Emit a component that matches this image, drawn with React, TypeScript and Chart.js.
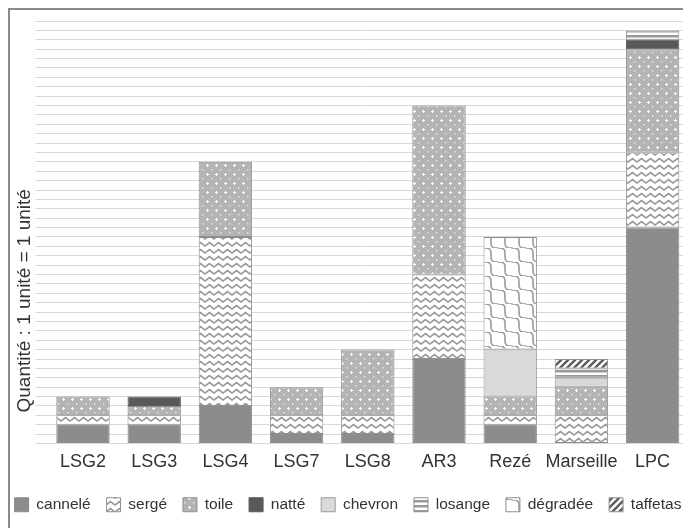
import React, { useEffect, useRef } from "react";
import { Chart, registerables } from "chart.js";

Chart.register(...registerables);

// ---------- data ----------
const categories = ["LSG2", "LSG3", "LSG4", "LSG7", "LSG8", "AR3", "Rezé", "Marseille", "LPC"];
const seriesNames = ["cannelé", "sergé", "toile", "natté", "chevron", "losange", "dégradée", "taffetas"];
const cannele = [2, 2, 4, 1, 1, 9, 2, 0, 23];
const serge = [1, 1, 18, 2, 2, 9, 1, 3, 8];
const toile = [2, 1, 8, 3, 7, 18, 2, 3, 11];
const natte = [0, 1, 0, 0, 0, 0, 0, 0, 1];
const chevron = [0, 0, 0, 0, 0, 0, 5, 1, 0];
const losange = [0, 0, 0, 0, 0, 0, 0, 1, 1];
const degradee = [0, 0, 0, 0, 0, 0, 12, 0, 0];
const taffetas = [0, 0, 0, 0, 0, 0, 0, 1, 0];
const yAxisTitle = "Quantité : 1 unité = 1 unité";
const yMin = 0;
const yMax = 45;
const yStep = 1;

const FONT = "'Liberation Sans', Arial, sans-serif";

type Draw = (g: CanvasRenderingContext2D, w: number, h: number) => void;
function makePattern(w: number, h: number, draw: Draw): CanvasPattern {
  const c = document.createElement("canvas");
  c.width = w;
  c.height = h;
  const g = c.getContext("2d")!;
  draw(g, w, h);
  return g.createPattern(c, "repeat")!;
}

function buildFills() {
  const solid = (col: string) => col;
  const sergeP = makePattern(9, 7, (g, w, h) => {
    g.fillStyle = "#fff";
    g.fillRect(0, 0, w, h);
    g.strokeStyle = "#9a9a9a";
    g.lineWidth = 1.7;
    g.beginPath();
    g.moveTo(-4.5, 1.5);
    g.lineTo(0, 5);
    g.lineTo(4.5, 1.5);
    g.lineTo(9, 5);
    g.lineTo(13.5, 1.5);
    g.stroke();
  });
  const toileP = makePattern(9, 9, (g, w, h) => {
    g.fillStyle = "#b4b4b4";
    g.fillRect(0, 0, w, h);
    g.fillStyle = "rgba(255,255,255,0.95)";
    g.fillRect(1, 2, 3, 1);
    g.fillRect(2, 1, 1, 3);
    g.fillStyle = "rgba(255,255,255,0.6)";
    g.fillRect(6, 6, 1.5, 1.5);
  });
  const losangeP = makePattern(6, 5, (g, w, h) => {
    g.fillStyle = "#fff";
    g.fillRect(0, 0, w, h);
    g.fillStyle = "#9a9a9a";
    g.fillRect(0, 0, w, 2.5);
  });
  const degradeeP = makePattern(14, 14, (g, w, h) => {
    g.fillStyle = "#fff";
    g.fillRect(0, 0, w, h);
    g.strokeStyle = "#9a9a9a";
    g.lineWidth = 1.6;
    g.lineCap = "round";
    for (const k of [-14, 0, 14]) {
      g.beginPath();
      for (let i = 0; i <= 40; i++) {
        const t = i / 40;
        const s = 3.2 * Math.sin(2 * Math.PI * t);
        const x = 14 * t + k + s / Math.SQRT2;
        const y = 14 * t - s / Math.SQRT2;
        if (i === 0) g.moveTo(x, y);
        else g.lineTo(x, y);
      }
      g.stroke();
    }
  });
  const taffetasP = makePattern(7, 7, (g, w, h) => {
    g.fillStyle = "#fff";
    g.fillRect(0, 0, w, h);
    g.strokeStyle = "#5c5c5c";
    g.lineWidth = 2.4;
    for (const k of [-7, 0, 7]) {
      g.beginPath();
      g.moveTo(k - 1, 8);
      g.lineTo(k + 8, -1);
      g.stroke();
    }
  });
  return [
    solid("#8c8c8c"),
    sergeP,
    toileP,
    solid("#595959"),
    solid("#d9d9d9"),
    losangeP,
    degradeeP,
    taffetasP,
  ];
}

const yTitlePlugin = {
  id: "yTitleCustom",
  afterDraw(chart: any) {
    const { ctx, chartArea } = chart;
    ctx.save();
    ctx.translate(chartArea.left - 23, chartArea.bottom - 31);
    ctx.rotate(-Math.PI / 2);
    ctx.font = `19px ${FONT}`;
    ctx.fillStyle = "#333";
    ctx.textAlign = "left";
    ctx.textBaseline = "middle";
    ctx.fillText(yAxisTitle, 0, 0);
    ctx.restore();
  },
};

export default function App() {
  const ref = useRef<HTMLCanvasElement | null>(null);

  useEffect(() => {
    document.body.style.overflow = "hidden";
    const canvas = ref.current!;
    const fills = buildFills();
    const series = [cannele, serge, toile, natte, chevron, losange, degradee, taffetas];
    const borders = ["#8c8c8c", "#8f8f8f", "#8f8f8f", "#595959", "#9a9a9a", "#8f8f8f", "#8f8f8f", "#8f8f8f"];
    const datasets = series.map((arr, i) => ({
      label: seriesNames[i],
      data: arr.map((v) => (v === 0 ? null : v)),
      backgroundColor: fills[i] as any,
      borderColor: borders[i],
      borderWidth: 1,
      borderSkipped: false as any,
      barPercentage: 0.75,
      categoryPercentage: 1,
      xAxisID: "x",
      yAxisID: "y",
    }));

    const chart = new Chart(canvas, {
      type: "bar",
      data: { labels: categories, datasets },
      options: {
        animation: false,
        responsive: false,
        maintainAspectRatio: false,
        layout: { padding: { top: 11, bottom: 5.5, left: 0, right: 0 } },
        plugins: {
          title: { display: false },
          tooltip: { enabled: false },
          legend: {
            display: true,
            position: "bottom",
            labels: {
              boxWidth: 14,
              boxHeight: 14,
              padding: 15.9,
              color: "#333",
              font: { family: FONT, size: 15.5 },
            },
          },
        },
        scales: {
          x: {
            stacked: true,
            offset: true,
            grid: { display: false, drawTicks: false },
            border: { display: false },
            ticks: {
              color: "#333",
              padding: 8,
              autoSkip: false,
              maxRotation: 0,
              font: { family: FONT, size: 18 },
            },
          },
          y: {
            stacked: true,
            min: yMin,
            max: yMax,
            grid: { color: "#d8d8d8", lineWidth: 1, drawTicks: true, tickLength: 12 },
            border: { display: false },
            ticks: { display: false, stepSize: yStep },
            afterFit: (s: any) => {
              s.width = 67.4;
            },
          },
          y2: {
            position: "right",
            display: true,
            grid: { display: false, drawTicks: false },
            border: { display: false },
            ticks: { display: false },
            afterFit: (s: any) => {
              s.width = 27.8;
            },
          },
        },
      },
      plugins: [yTitlePlugin],
    });
    return () => chart.destroy();
  }, []);

  return (
    <div
      style={{
        position: "absolute",
        left: 8,
        top: 8,
        width: 673,
        height: 518,
        overflow: "hidden",
        borderLeft: "2px solid #8a8a8a",
        borderTop: "2px solid #8a8a8a",
        background: "#fff",
      }}
    >
      <canvas
        ref={ref}
        width={736}
        height={518}
        style={{ display: "block", marginLeft: -30, width: 736, height: 518 }}
      />
    </div>
  );
}
